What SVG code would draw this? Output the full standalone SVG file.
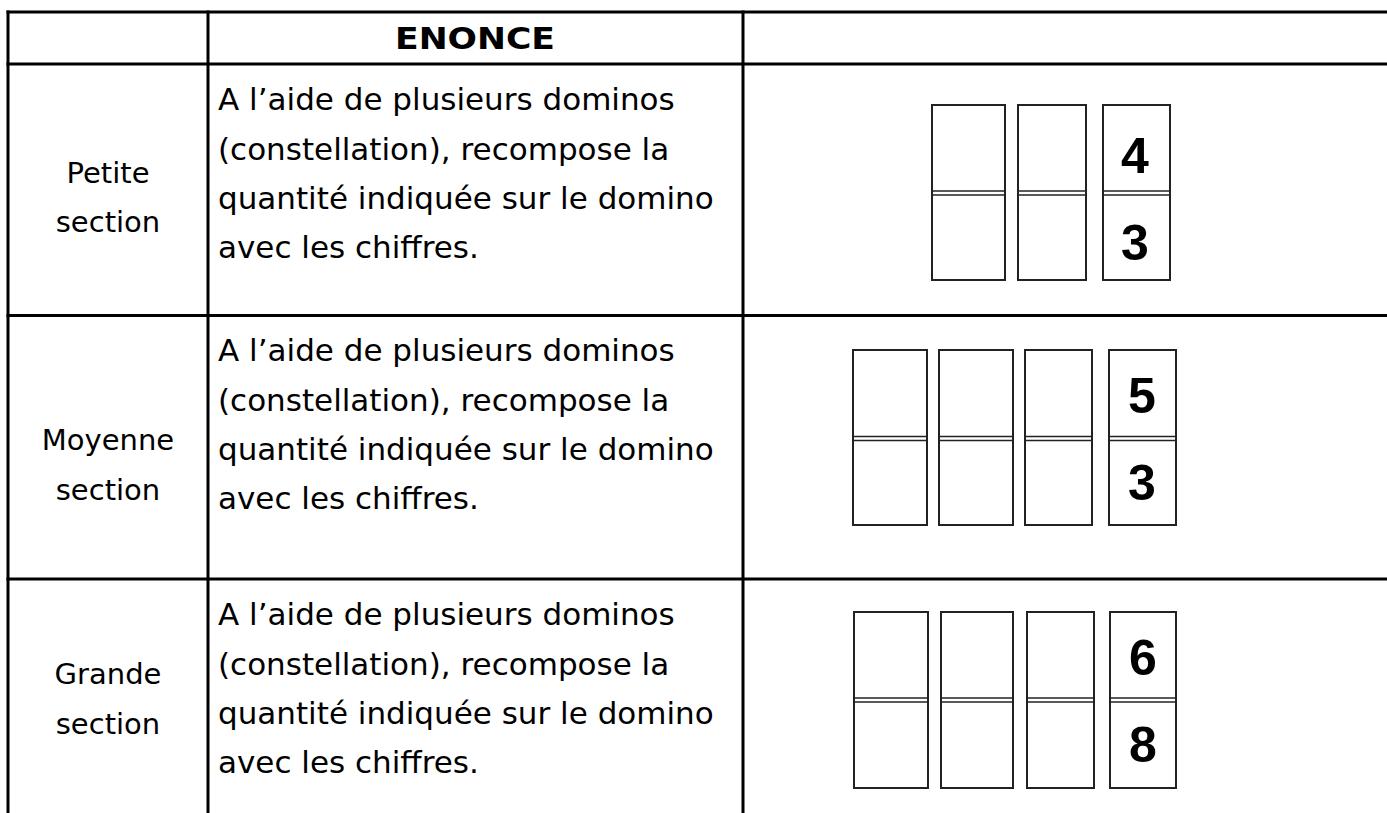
<svg xmlns="http://www.w3.org/2000/svg" width="1387" height="813" viewBox="0 0 1387 813">
<style>
.grid{stroke:#000;stroke-width:3;fill:none}
.body{font-family:"DejaVu Sans","Liberation Sans",sans-serif;font-size:31px;fill:#000}
.lab{font-family:"DejaVu Sans","Liberation Sans",sans-serif;font-size:29px;fill:#000;text-anchor:middle}
.head{font-family:"Comic Sans MS","DejaVu Sans",sans-serif;font-weight:bold;font-size:30px;fill:#000;text-anchor:middle}
.dom{fill:#fff;stroke:#222;stroke-width:2}
.mid{stroke:#222;stroke-width:1.6}
.dig{font-family:"Liberation Sans",Arial,sans-serif;font-weight:bold;font-size:50px;fill:#000;text-anchor:middle}
</style>
<rect width="1387" height="813" fill="#fff"/>
<g id="table" class="grid">
<line x1="6.5" y1="12" x2="1387" y2="12"/>
<line x1="6.5" y1="64" x2="1387" y2="64"/>
<line x1="6.5" y1="315.5" x2="1387" y2="315.5"/>
<line x1="6.5" y1="579" x2="1387" y2="579"/>
<line x1="8" y1="10.5" x2="8" y2="813"/>
<line x1="208" y1="10.5" x2="208" y2="813"/>
<line x1="743" y1="10.5" x2="743" y2="813"/>
</g>
<g id="header">
<text class="head" x="475" y="49" textLength="160" lengthAdjust="spacingAndGlyphs">ENONCE</text>
</g>
<g id="row1-label">
<text class="lab" x="108" y="183">Petite</text>
<text class="lab" x="108" y="232">section</text>
</g>
<g id="row1-text">
<text class="body" x="218" y="110">A l’aide de plusieurs dominos</text>
<text class="body" x="218" y="160">(constellation), recompose  la</text>
<text class="body" x="218" y="209">quantité indiquée sur le domino</text>
<text class="body" x="218" y="258">avec les chiffres.</text>
</g>
<g id="row1-dominos">
<rect class="dom" x="932" y="105" width="73" height="175"/>
<line class="mid" x1="932" y1="191" x2="1005" y2="191"/><line class="mid" x1="932" y1="195" x2="1005" y2="195"/>
<rect class="dom" x="1018" y="105" width="68" height="175"/>
<line class="mid" x1="1018" y1="191" x2="1086" y2="191"/><line class="mid" x1="1018" y1="195" x2="1086" y2="195"/>
<rect class="dom" x="1103" y="105" width="67" height="175"/>
<line class="mid" x1="1103" y1="191" x2="1170" y2="191"/><line class="mid" x1="1103" y1="195" x2="1170" y2="195"/>
<text class="dig" x="1135" y="173">4</text>
<text class="dig" x="1135" y="260">3</text>
</g>
<g id="row2-label">
<text class="lab" x="108" y="450">Moyenne</text>
<text class="lab" x="108" y="500">section</text>
</g>
<g id="row2-text">
<text class="body" x="218" y="361">A l’aide de plusieurs dominos</text>
<text class="body" x="218" y="411">(constellation), recompose  la</text>
<text class="body" x="218" y="460">quantité indiquée sur le domino</text>
<text class="body" x="218" y="509">avec les chiffres.</text>
</g>
<g id="row2-dominos">
<rect class="dom" x="853" y="350" width="74" height="175"/>
<line class="mid" x1="853" y1="436.5" x2="927" y2="436.5"/><line class="mid" x1="853" y1="440.5" x2="927" y2="440.5"/>
<rect class="dom" x="939" y="350" width="74" height="175"/>
<line class="mid" x1="939" y1="436.5" x2="1013" y2="436.5"/><line class="mid" x1="939" y1="440.5" x2="1013" y2="440.5"/>
<rect class="dom" x="1025" y="350" width="67" height="175"/>
<line class="mid" x1="1025" y1="436.5" x2="1092" y2="436.5"/><line class="mid" x1="1025" y1="440.5" x2="1092" y2="440.5"/>
<rect class="dom" x="1109" y="350" width="67" height="175"/>
<line class="mid" x1="1109" y1="436.5" x2="1176" y2="436.5"/><line class="mid" x1="1109" y1="440.5" x2="1176" y2="440.5"/>
<text class="dig" x="1142" y="413">5</text>
<text class="dig" x="1142" y="500">3</text>
</g>
<g id="row3-label">
<text class="lab" x="108" y="684">Grande</text>
<text class="lab" x="108" y="734">section</text>
</g>
<g id="row3-text">
<text class="body" x="218" y="625">A l’aide de plusieurs dominos</text>
<text class="body" x="218" y="675">(constellation), recompose  la</text>
<text class="body" x="218" y="724">quantité indiquée sur le domino</text>
<text class="body" x="218" y="773">avec les chiffres.</text>
</g>
<g id="row3-dominos">
<rect class="dom" x="854" y="612" width="74" height="176"/>
<line class="mid" x1="854" y1="698" x2="928" y2="698"/><line class="mid" x1="854" y1="702" x2="928" y2="702"/>
<rect class="dom" x="941" y="612" width="72" height="176"/>
<line class="mid" x1="941" y1="698" x2="1013" y2="698"/><line class="mid" x1="941" y1="702" x2="1013" y2="702"/>
<rect class="dom" x="1027" y="612" width="67" height="176"/>
<line class="mid" x1="1027" y1="698" x2="1094" y2="698"/><line class="mid" x1="1027" y1="702" x2="1094" y2="702"/>
<rect class="dom" x="1110" y="612" width="66" height="176"/>
<line class="mid" x1="1110" y1="698" x2="1176" y2="698"/><line class="mid" x1="1110" y1="702" x2="1176" y2="702"/>
<text class="dig" x="1143" y="675">6</text>
<text class="dig" x="1143" y="762">8</text>
</g>
</svg>
